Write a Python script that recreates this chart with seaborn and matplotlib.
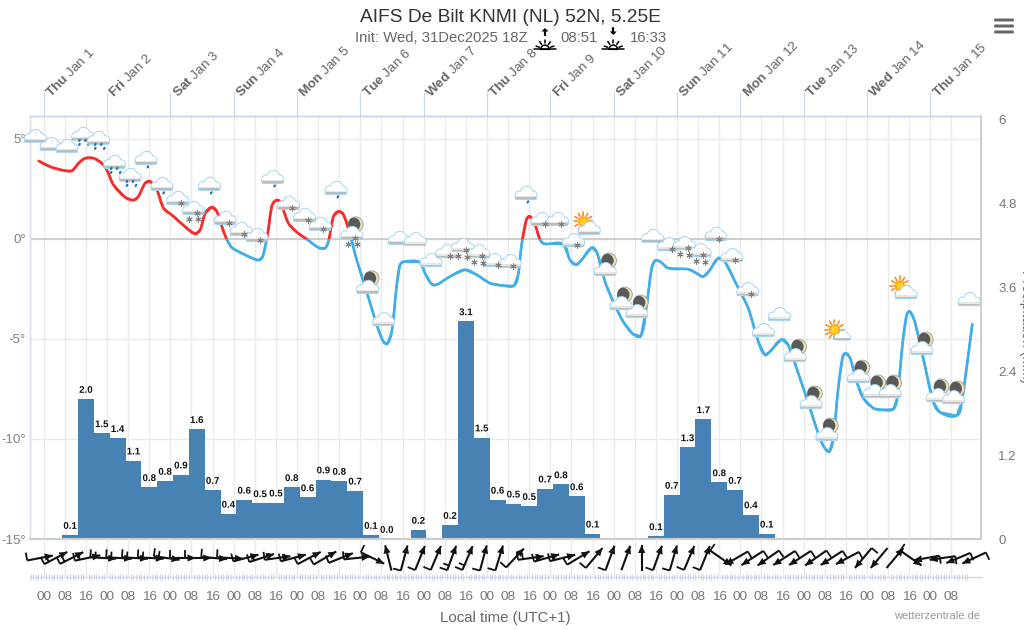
import numpy as np
import matplotlib
matplotlib.use("Agg")
import matplotlib.pyplot as plt
import matplotlib.patheffects as pe
from matplotlib.path import Path
from matplotlib.patches import Circle, Rectangle, Polygon, Ellipse, FancyBboxPatch, PathPatch
import seaborn as sns

# ---------- data ----------
line_hours = [-2.0,2.5,7.5,10.7,13.2,15.7,18.9,22.0,23.9,26.4,30.9,34.0,35.9,38.4,40.3,42.9,45.4,49.2,54.2,57.4,59.3,61.2,63.7,65.6,67.5,69.4,71.3,73.8,78.2,81.4,83.0,84.8,86.4,87.7,89.3,90.8,92.7,95.9,99.7,104.1,106.6,107.9,109.8,111.7,113.5,115.8,118.6,122.4,126.2,128.7,130.2,131.9,133.8,135.0,136.3,142.6,144.5,147.0,148.9,153.9,159.6,164.1,169.1,174.2,178.2,179.8,181.1,183.0,184.3,186.2,188.1,189.6,196.9,199.4,201.7,203.9,207.7,209.6,212.7,215.8,219.6,223.4,226.3,228.5,230.4,231.7,233.6,236.7,244.2,247.4,249.9,252.5,255.6,258.1,262.6,267.0,270.8,273.3,275.2,279.6,282.1,286.6,290.4,294.1,296.0,297.7,299.2,301.1,302.8,304.0,305.6,308.1,310.6,314.4,317.5,321.9,323.4,325.7,327.2,328.3,330.1,333.3,337.1,339.6,346.0,347.9,350.4,351.9]
temps = [3.91,3.61,3.43,3.41,3.79,4.04,4.04,3.79,3.46,2.71,2.08,1.94,2.13,2.79,2.88,2.46,1.54,1.13,0.54,0.26,0.46,1.29,1.59,1.38,0.63,-0.04,-0.43,-0.63,-0.91,-1.06,-0.88,0.21,1.63,1.91,1.91,1.46,0.79,0.34,-0.01,-0.43,-0.46,-0.13,1.13,1.38,1.24,0.38,-1.04,-2.63,-4.29,-5.13,-5.24,-4.63,-2.29,-1.29,-1.14,-1.16,-1.71,-2.26,-2.29,-1.88,-1.54,-1.79,-2.21,-2.33,-2.33,-1.79,-0.29,1.01,1.13,0.71,-0.04,-0.24,-0.26,-1.04,-1.29,-1.04,-0.43,-0.66,-2.13,-3.13,-4.13,-4.76,-4.85,-3.29,-1.46,-1.08,-1.13,-1.46,-1.51,-1.71,-1.88,-1.54,-0.96,-1.13,-2.29,-3.46,-5.13,-5.79,-5.63,-5.03,-5.29,-6.96,-8.46,-9.96,-10.46,-10.63,-9.96,-7.46,-5.88,-5.71,-5.96,-7.13,-7.96,-8.46,-8.54,-8.51,-7.96,-4.96,-3.71,-3.63,-4.13,-5.96,-8.13,-8.66,-8.83,-8.13,-5.79,-4.24]

precip = [0.057,2.0,1.51,1.44,1.12,0.74,0.83,0.92,1.57,0.70,0.36,0.56,0.51,0.52,0.74,0.595,0.85,0.83,0.69,0.057,0.0,0.0,0.13,0.0,0.2,3.11,1.45,0.56,0.505,0.47,0.72,0.78,0.61,0.076,0.0,0.0,0.0,0.04,0.63,1.31,1.71,0.81,0.70,0.35,0.076]
precip_labels = ['0.1','2.0','1.5','1.4','1.1','0.8','0.8','0.9','1.6','0.7','0.4','0.6','0.5','0.5','0.8','0.6','0.9','0.8','0.7','0.1','0.0','','0.2','','0.2','3.1','1.5','0.6','0.5','0.5','0.7','0.8','0.6','0.1','','','','0.1','0.7','1.3','1.7','0.8','0.7','0.4','0.1']
bar_start, step_hours = 10, 6

icon_levels = [5.13,4.73,4.63,5.23,5.03,3.83,3.18,4.03,2.73,2.03,1.53,2.73,1.03,0.48,0.18,3.08,1.78,1.18,0.73,2.53,0.28,-2.42,-4.03,0.03,-0.03,-1.08,-0.63,-0.33,-0.63,-1.08,-1.13,2.28,0.98,0.98,-0.08,0.53,-1.53,-3.23,-3.63,0.13,-0.28,-0.23,-0.58,0.23,-0.83,-2.53,-4.58,-3.78,-5.83,-8.18,-9.78,-4.83,-6.88,-7.63,-7.63,-2.68,-5.48,-7.83,-7.93,-3.03]
icon_kinds = ['c','c','c','r2','r2','r2','r2','r1','r1','s1','s2','r1','s1','s1','s1','r1','s1','s1','s1','r1','ms','m','c','c','c','c','s1','s2','s2','s1','s1','r1','s1','s1','s1','u','m','m','m','c','s1','s2','s2','s1','s1','s1','c','c','m','m','m','us','m','m','m','u','m','m','m','c']
icon_start = -3.3

wind_angles = [11,28,27,12,-3,-3,-3,-3,-8,0,0,-5,-3,15,18,8,15,28,30,22,6,-26,104,75,68,67,70,67,75,73,47,8,16,14,31,50,70,70,90,70,74,67,68,-35,210,213,215,213,213,215,213,208,230,230,50,-35,190,188,203,205]
wind_feathers = [1,2,2,2,2,2,2,2,2,1,1,1,1,1,2,2,2,1,1,1,1,1,0,1,1,1,2,2,1,1,1,2,2,2,1,1,1,0,0,1,1,1,1,1,1,1,1,1,1,1,1,1,1,0,0,1,1,1,1,1]
wind_start = -1.4

day_names = ['Thu','Fri','Sat','Sun','Mon','Tue','Wed','Thu','Fri','Sat','Sun','Mon','Tue','Wed','Thu']
day_dates = ['Jan 1','Jan 2','Jan 3','Jan 4','Jan 5','Jan 6','Jan 7','Jan 8','Jan 9','Jan 10','Jan 11','Jan 12','Jan 13','Jan 14','Jan 15']
temp_ticks = [-15,-10,-5,0,5]
precip_ticks = [0,1.2,2.4,3.6,4.8,6]
time_labels = ['00','08','16']

# ---------- style ----------
sns.set_theme(style='white')
plt.rcParams['font.family'] = ['Liberation Sans', 'DejaVu Sans']
plt.rcParams['mathtext.fontset'] = 'custom'
plt.rcParams['mathtext.rm'] = 'Liberation Sans'
plt.rcParams['mathtext.it'] = 'Liberation Sans:italic'
plt.rcParams['mathtext.bf'] = 'Liberation Sans:bold'
plt.rcParams['mathtext.default'] = 'regular'

W, H, DPI = 1024, 630, 100
GREY = '#666666'
GRID = '#e9e9e9'
AXBLUE = '#ccd6eb'
fig = plt.figure(figsize=(W/DPI, H/DPI), dpi=DPI, facecolor='white')
L, R, T, B, B2 = 30, 981, 116, 539, 577
XLIM = (-5.2, 355.2)
ax = fig.add_axes([L/W, 1-B/H, (R-L)/W, (B-T)/H])
ax.set_xlim(*XLIM)
YMAX = -15 + (B-T)/20
ax.set_ylim(-15, YMAX)
ax2 = ax.twinx()
ax2.set_ylim(0, (B-T)/70)

def smooth_path(xs, ys):
    """Bezier through the read points, the way the original draws its spline."""
    sx, sy = (R-L)/(XLIM[1]-XLIM[0]), 20.0
    p = np.column_stack([np.array(xs)*sx, np.array(ys)*sy])
    tan = np.zeros_like(p)
    tan[1:-1] = p[2:] - p[:-2]
    tan[0], tan[-1] = p[1]-p[0], p[-1]-p[-2]
    tan /= np.linalg.norm(tan, axis=1, keepdims=True)
    verts, codes = [p[0]], [Path.MOVETO]
    for i in range(len(p)-1):
        seg = np.linalg.norm(p[i+1]-p[i])
        verts += [p[i]+tan[i]*seg/3, p[i+1]-tan[i+1]*seg/3, p[i+1]]
        codes += [Path.CURVE4]*3
    verts = np.array(verts) / [sx, sy]
    return Path(verts, codes)

# temperature: one curve, red above freezing and blue below
for colour, y0, y1 in [('#f92a2a', 0, YMAX), ('#41ade9', -15, 0)]:
    clip = Rectangle((XLIM[0], y0), XLIM[1]-XLIM[0], y1-y0, transform=ax.transData)
    sns.lineplot(x=line_hours, y=temps, sort=False, estimator=None, errorbar=None,
                 color=colour, lw=1.5, ax=ax)
    ax.lines[-1].set_clip_path(clip)
    curve = PathPatch(smooth_path(line_hours, temps), fc='none', ec=colour, lw=1.9, zorder=3)
    ax.add_patch(curve)
    curve.set_clip_path(clip)
ax.axhline(0, color='#c4c4c4', lw=1.1, zorder=1)

# precipitation
bar_hours = [bar_start + step_hours*i for i in range(len(precip))]
sns.barplot(x=bar_hours, y=precip, native_scale=True, width=1, color='#4682b4', saturation=1,
            linewidth=0, ax=ax2, legend=False)
ax2.bar_label(ax2.containers[0], labels=precip_labels, padding=3, fontsize=7, fontweight='bold',
              color='#111111', path_effects=[pe.withStroke(linewidth=1.5, foreground='white')])
ax2.set_xlim(*XLIM)
ax2.set_ylim(0, (B-T)/70)
ax2.set_ylabel('')
ax2.set_yticks(precip_ticks, [str(v) if v else '0' for v in precip_ticks])
ax2.tick_params(axis='y', length=0, pad=12.5, labelsize=9.5, labelcolor='#777777')
ax2.grid(False)

# axes, grid
major = list(range(0, 345, 8))
ax.set_xticks(major)
ax.set_yticks(temp_ticks, [f'{v}°' for v in temp_ticks])
ax.tick_params(axis='y', length=0, pad=3, labelsize=9.5, labelcolor='#808080')
ax.tick_params(axis='x', length=0, labelbottom=False)
ax.grid(True, color=GRID, lw=0.95)
ax.set_axisbelow(True)
ax.set_ylabel('')
for a in (ax, ax2):
    a.spines['top'].set(color=AXBLUE, lw=1.0)
    a.spines['left'].set(color='#dcdfea', lw=1.0)
    a.spines['right'].set(color='#cccccc', lw=1.1)
    a.spines['bottom'].set(color='#cccccc', lw=1.5)

# day ticks and labels on the top
day_hours = [24*i for i in range(len(day_names))]
top = ax.secondary_xaxis('top')
top.set_xticks(day_hours, ['']*len(day_hours))
top.tick_params(axis='x', length=17.3, width=0.8, color=AXBLUE)
top.spines['top'].set_visible(False)
for h, n, d in zip(day_hours, day_names, day_dates):
    ax.annotate(rf'$\mathbf{{{n}}}$ {d}', xy=(h, YMAX), xytext=(7, 18), textcoords='offset pixels',
                rotation=45, rotation_mode='anchor', ha='left', va='baseline',
                fontsize=9.7, color=GREY, annotation_clip=False)

# wind band with time axis
axw = fig.add_axes([L/W, 1-B2/H, (R-L)/W, (B2-B)/H], facecolor='none')
axw.set_xlim(*XLIM)
axw.set_ylim(0, 1)
axw.set_yticks([])
axw.set_xticks(major, [time_labels[i % 3] for i in range(len(major))])
axw.set_xticks(np.arange(-5, 351), minor=True)
axw.tick_params(axis='x', which='major', length=0, pad=10, labelsize=9.7, labelcolor='#777777')
axw.tick_params(axis='x', which='minor', bottom=True, length=4.5, width=0.7, color=AXBLUE, direction='inout')
axw.grid(True, axis='x', color=GRID, lw=0.95)
axw.set_axisbelow(True)
for s in ('top', 'left', 'right'):
    axw.spines[s].set_visible(False)
axw.spines['bottom'].set(color=AXBLUE, lw=1.0)

# pixel overlay for pictograms
ov = fig.add_axes([0, 0, 1, 1], facecolor='none')
ov.set_xlim(0, W)
ov.set_ylim(H, 0)
ov.axis('off')
ov.set_zorder(10)

def to_px(h, v):
    x, y = ax.transData.transform((h, v))
    return x, H - y

def cloud(cx, cy, scale=1.0):
    s = scale
    bumps = [(0.8, -0.9, 5.7), (-6.2, 1.8, 3.9), (6.8, 1.8, 3.9)]
    edge = '#a5d6ef'
    for dx, dy, r in bumps:
        ov.add_patch(Circle((cx+dx*s, cy+dy*s), (r+1.0)*s, fc=edge, ec='none'))
    ov.add_patch(FancyBboxPatch((cx-10.3*s, cy+1*s), 20.8*s, 4.8*s, boxstyle=f'round,pad=0.7,rounding_size={1.5*s}',
                                fc=edge, ec='none'))
    for dx, dy, r in bumps:
        ov.add_patch(Circle((cx+dx*s, cy+dy*s), r*s, fc='white', ec='none'))
    ov.add_patch(Rectangle((cx-10.1*s, cy+0.5*s), 20.4*s, 2.4*s, fc='white', ec='none'))
    ov.add_patch(Rectangle((cx-10.1*s, cy+2.9*s), 20.4*s, 1.1*s, fc='#e6e6e6', ec='none'))
    ov.add_patch(Rectangle((cx-10.1*s, cy+4.0*s), 20.4*s, 1.6*s, fc='#bcbcbc', ec='none'))

def moon(cx, cy):
    ov.add_patch(Circle((cx, cy), 7.5, fc='#ece3b4', ec='#999999', lw=0.6))
    m = Circle((cx-2.2, cy), 6.9, fc='#595959', ec='none')
    ov.add_patch(m)
    m.set_clip_path(Circle((cx, cy), 7.5, transform=ov.transData))

def sun(cx, cy, r=4.3):
    for a in np.arange(0, 360, 30):
        ca, sa = np.cos(np.radians(a)), np.sin(np.radians(a))
        ov.plot([cx+ca*(r+1.5), cx+ca*(r+5)], [cy+sa*(r+1.5), cy+sa*(r+5)],
                color='#ff8a1e', lw=1.2, solid_capstyle='round', zorder=1)
    ov.add_patch(Circle((cx, cy), r, fc='#ffd21f', ec='#ff9a1e', lw=1))

def flake(x, y):
    ov.plot([x], [y], marker=(6, 2, 0), ms=4.5, mew=0.7, color='#808080', ls='none')

def drop(x, y):
    ov.add_patch(Ellipse((x, y), 2.2, 3.4, angle=30, fc='#1f6fa8', ec='none'))

for k, (lvl, kind) in enumerate(zip(icon_levels, icon_kinds)):
    cx, cy = to_px(icon_start + step_hours*k, lvl)
    if kind in ('m', 'ms'):
        moon(cx+4, cy-9)
    if kind == 'u':
        sun(cx-6, cy-7)
    if kind == 'us':
        sun(cx-8, cy-6, 4.8)
    cloud(cx, cy, 0.72 if kind == 'us' else 1.0)
    if kind == 'r1':
        drop(cx+2, cy+8.5)
    if kind == 'r2':
        for dx, dy in [(-3, 6), (-3, 10), (6, 10), (3, 6)]:
            drop(cx+dx, cy+dy)
    if kind in ('s1', 's2', 'ms'):
        flake(cx+3.5, cy+4.5)
    if kind in ('s2', 'ms'):
        flake(cx-4, cy+10.5)
        flake(cx+5, cy+11)

# wind arrows
WIND_Y, SHAFT = 558, 26
for k, (ang, nf) in enumerate(zip(wind_angles, wind_feathers)):
    cx, _ = to_px(wind_start + step_hours*k, 0)
    ux, uy = np.cos(np.radians(ang)), -np.sin(np.radians(ang))
    lx, ly = uy, -ux   # left of travel, screen coordinates
    tx, ty = cx - ux*SHAFT/2, WIND_Y - uy*SHAFT/2
    hx, hy = cx + ux*SHAFT/2, WIND_Y + uy*SHAFT/2
    ov.plot([tx, hx], [ty, hy], color='#111111', lw=1.5, solid_capstyle='butt')
    ov.add_patch(Polygon([(hx, hy), (hx-ux*8+lx*3.6, hy-uy*8+ly*3.6), (hx-ux*8-lx*3.6, hy-uy*8-ly*3.6)],
                         closed=True, fc='#111111', ec='none', zorder=3))
    for f in range(nf):
        fx, fy = tx + ux*f*5, ty + uy*f*5
        n = 8 if f == 0 else 6
        ov.plot([fx, fx+lx*n], [fy, fy+ly*n], color='#111111', lw=1.3, solid_capstyle='butt')

# title block
ov.text(510.5, 17, 'AIFS De Bilt KNMI (NL) 52N, 5.25E', ha='center', va='center', fontsize=13.8, color='#333333')
ov.text(355, 37.5, 'Init: Wed, 31Dec2025 18Z', ha='left', va='center', fontsize=10.7, color=GREY)
ov.text(560, 37.5, '08:51', ha='left', va='center', fontsize=10.7, color=GREY)
ov.text(630, 37.5, '16:33', ha='left', va='center', fontsize=10.7, color=GREY)

def sun_mark(cx, up):
    y = 49.3
    ov.plot([cx-11, cx+11], [y, y], color='black', lw=1.1)
    th = np.radians(np.linspace(0, 180, 30))
    ov.fill(cx+4.2*np.cos(th), y-4.2*np.sin(th), fc='none', ec='black', lw=1.1)
    for a in (20, 55, 90, 125, 160):
        c, s = np.cos(np.radians(a)), np.sin(np.radians(a))
        ov.plot([cx+6*c, cx+9.5*c], [y-6*s, y-9.5*s], color='black', lw=1.1)
    base, tip = (35, 28) if up else (28, 35)
    ov.plot([cx, cx], [base, (tip+base)/2], color='black', lw=1.6)
    ov.add_patch(Polygon([(cx, tip), (cx-3.5, (tip+base)/2), (cx+3.5, (tip+base)/2)], fc='black', ec='none'))

sun_mark(545, True)
sun_mark(613.3, False)

# menu symbol
for y in (20, 26, 32):
    ov.add_patch(FancyBboxPatch((995, y-0.7), 18, 1.4, boxstyle='round,pad=0.8', fc=GREY, ec='none'))

ov.text(505.5, 618, 'Local time (UTC+1)', ha='center', va='center', fontsize=10.8, color=GREY)
ov.text(980, 616, 'wetterzentrale.de', ha='right', va='center', fontsize=8.0, color='#999999')
ov.text(1026, 327, 'Precipitation (mm)', rotation=270, ha='center', va='center', fontsize=10, color=GREY, clip_on=False)

fig.savefig('out.png', dpi=DPI, facecolor='white')
